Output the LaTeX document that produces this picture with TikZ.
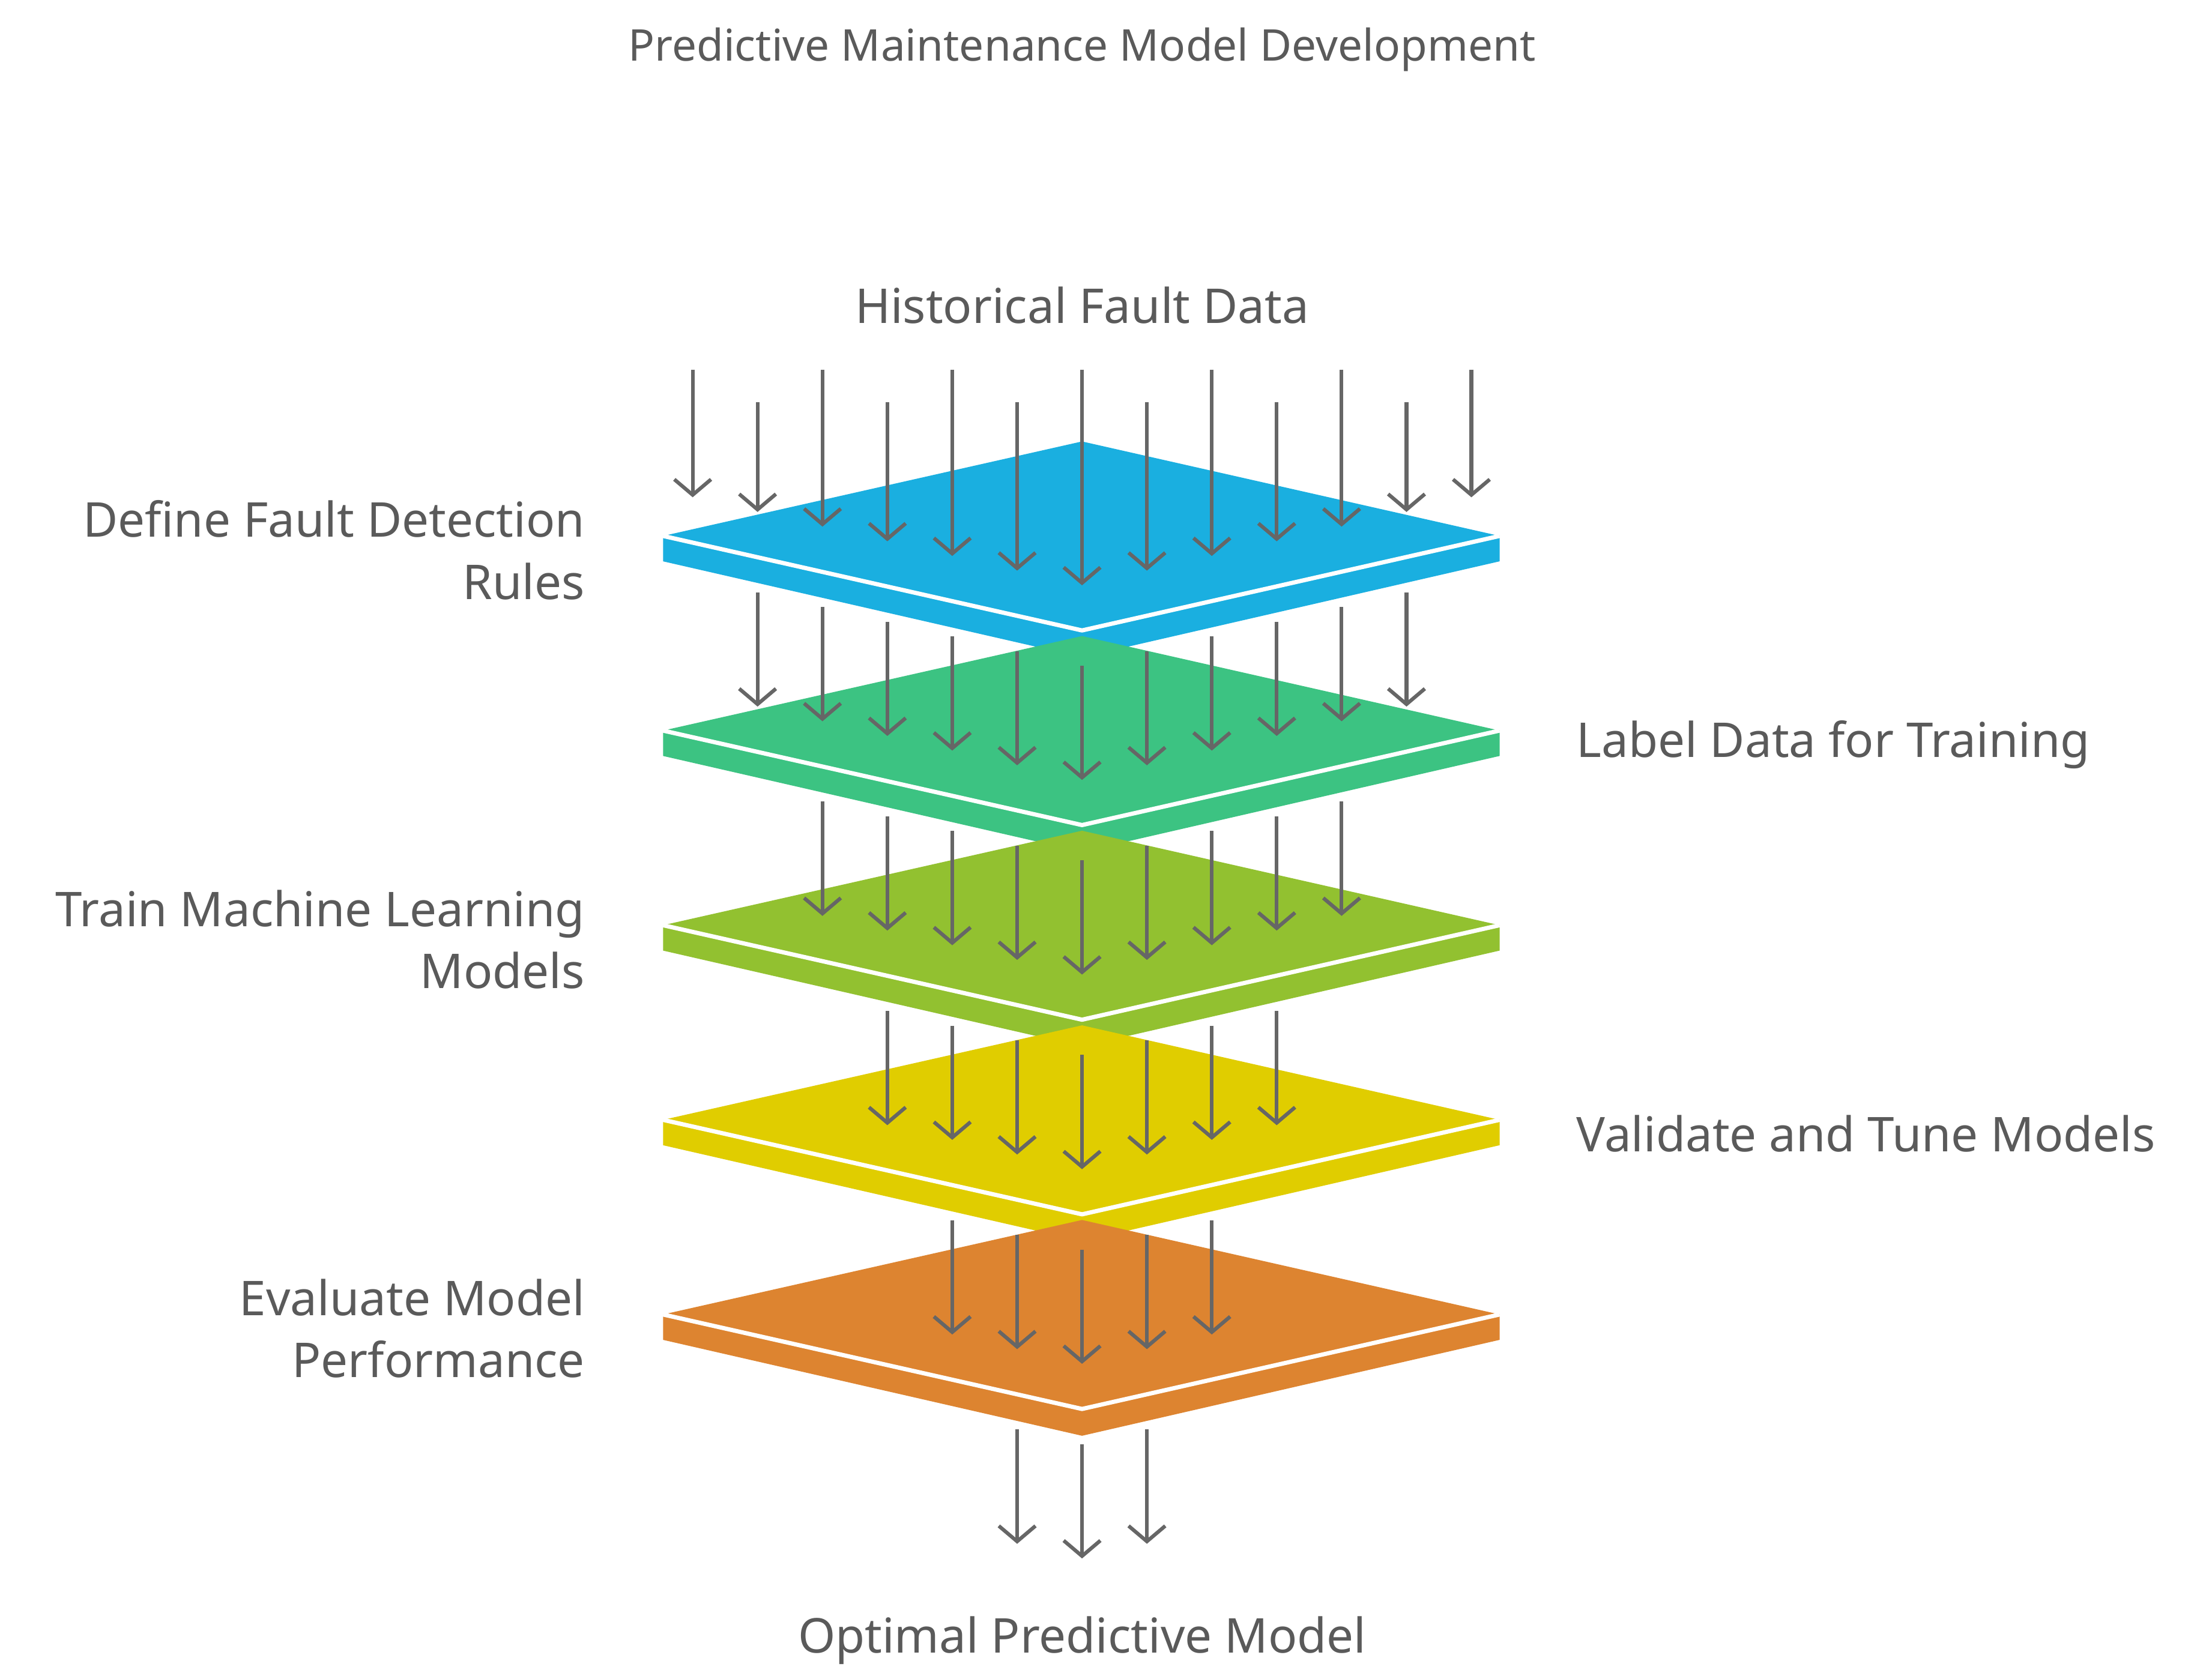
\documentclass[tikz,border=0pt]{standalone}
\usepackage{fontspec}
\setmainfont{Noto Sans}
\usetikzlibrary{arrows.meta}
\definecolor{cA}{HTML}{1AAFE0}
\definecolor{cB}{HTML}{3CC382}
\definecolor{cC}{HTML}{92C130}
\definecolor{cD}{HTML}{E0CD00}
\definecolor{cE}{HTML}{DD8430}
\definecolor{txt}{HTML}{5A5A5A}
\definecolor{arr}{HTML}{666666}
\tikzset{
 flow/.style={draw=arr,line width=2.6pt,-{Straight Barb[length=11pt,width=26pt,line width=2.6pt]}},
 lbl/.style={text=txt,font=\fontsize{34}{44}\selectfont,align=#1},
 ttl/.style={text=txt,font=\bfseries\fontsize{31}{38}\selectfont}
}
\begin{document}
\begin{tikzpicture}[x=1pt,y=-1pt]
\useasboundingbox (0,0) rectangle (1568,1188);
\node[ttl] (title) at (767,35) {Predictive Maintenance Model Development};
% layers
\foreach \c [count=\k from 0] in {cA,cB,cC,cD,cE}{
 \pgfmathsetmacro{\o}{138*\k}
 \fill[\c] (470,380+\o) -- (767,447+\o) -- (1063,380+\o) -- (1063,398+\o) -- (767,466+\o) -- (470,398+\o) -- cycle;
 \fill[\c] (470,380+\o) -- (767,313+\o) -- (1063,380+\o) -- (767,447+\o) -- cycle;
 \draw[white,line width=3pt,line join=round] (470,380+\o) -- (767,447+\o) -- (1063,380+\o);
}
% arrows into top layer
\foreach \i in {-6,...,6}{
 \pgfmathsetmacro{\x}{767+46*\i}
 \pgfmathsetmacro{\s}{isodd(\i)?285:262}
 \pgfmathsetmacro{\e}{415-10.4*abs(\i)}
 \coordinate (s0\i) at (\x,\s); \coordinate (e0\i) at (\x,\e);
 \draw[flow] (s0\i) -- (e0\i);
}
% arrows between layers
\foreach \k/\n in {1/5,2/4,3/3,4/2,5/1}{
 \foreach \i in {-\n,...,\n}{
  \pgfmathsetmacro{\x}{767+46*\i}
  \pgfmathsetmacro{\s}{472+138*(\k-1)-10.4*abs(\i)}
  \pgfmathsetmacro{\e}{415+138*\k-10.4*abs(\i)}
  \coordinate (s\k\i) at (\x,\s); \coordinate (e\k\i) at (\x,\e);
  \draw[flow] (s\k\i) -- (e\k\i);
 }
}
\node[lbl=center,anchor=base] (top) at (767,229) {Historical Fault Data};
\node[lbl=center,anchor=base] (bot) at (767,1172) {Optimal Predictive Model};
\node[lbl=right,anchor=east] (l1) at (418,390) {Define Fault Detection\\Rules};
\node[lbl=left,anchor=west] (l2) at (1114,528) {Label Data for Training};
\node[lbl=right,anchor=east] (l3) at (418,666) {Train Machine Learning\\Models};
\node[lbl=left,anchor=west] (l4) at (1114,804) {Validate and Tune Models};
\node[lbl=right,anchor=east] (l5) at (418,942) {Evaluate Model\\Performance};
\end{tikzpicture}
\end{document}
